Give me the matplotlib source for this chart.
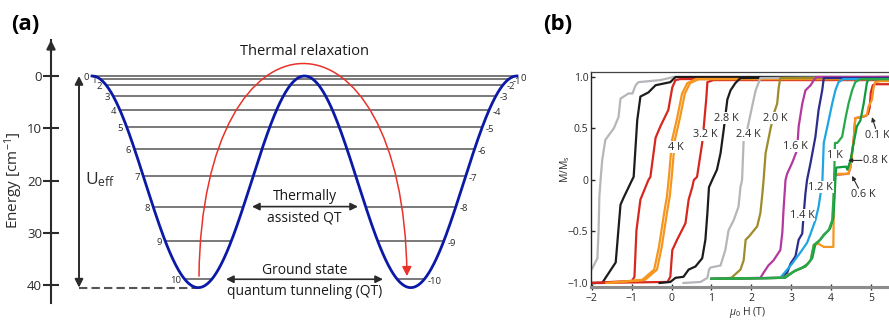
import numpy as np
import matplotlib
matplotlib.use("Agg")
import matplotlib.pyplot as plt
from matplotlib.path import Path
from matplotlib.patches import FancyArrowPatch

plt.rcParams['font.family'] = ['Open Sans', 'DejaVu Sans']
plt.rcParams['mathtext.fontset'] = 'custom'
plt.rcParams['mathtext.rm'] = 'Open Sans'
plt.rcParams['mathtext.it'] = 'Open Sans:italic'
plt.rcParams['mathtext.bf'] = 'Open Sans:bold'

# ---------------- panel (a) data ----------------
well_depth = 40.5                      # cm-1, bottom of each well
level_m = list(range(11))              # |m| = 0 .. 10
level_E = [0, 0.6, 1.7, 3.8, 6.5, 9.8, 14.0, 19.2, 25.0, 31.6, 38.9]
energy_ticks = [0, 10, 20, 30, 40]

# ---------------- panel (b) data ----------------
gray_d_x = [-2.03, -1.99, -1.86, -1.83, -1.81, -1.78, -1.74, -1.66, -1.45, -1.33, -1.28,
            -1.08, -0.98, -0.90, -0.83, -0.28, 0.05, 5.5]
gray_d_y = [-0.88, -0.86, -0.76, -0.49, -0.16, 0.0, 0.19, 0.39, 0.50, 0.61, 0.79,
            0.84, 0.84, 0.92, 0.95, 0.97, 1.0, 1.0]
black_d_x = [-2.03, -1.74, -1.40, -1.28, -1.20, -0.99, -0.95, -0.86, -0.78, -0.58, -0.40,
             -0.03, 0.10, 5.5]
black_d_y = [-1.0, -1.0, -0.80, -0.24, -0.17, 0.0, 0.03, 0.58, 0.81, 0.85, 0.92,
             0.95, 1.0, 1.0]
red_d_x = [-2.03, -0.99, -0.93, -0.88, -0.78, -0.58, -0.53, -0.40, -0.28, -0.08, 0.02,
           0.10, 0.23, 5.5]
red_d_y = [-1.0, -0.98, -0.94, -0.49, -0.19, 0.0, 0.03, 0.41, 0.52, 0.68, 0.90,
           0.97, 0.98, 0.98]
orange4_x = [-1.60, -0.70, -0.40, -0.28, -0.15, -0.08, -0.03, 0.05, 0.18, 0.30, 0.43, 0.65, 5.5]
orange4_y = [-1.0, -0.97, -0.87, -0.65, -0.32, -0.16, 0.03, 0.39, 0.61, 0.84, 0.94, 0.98, 0.98]
red32_x = [-2.03, -0.10, -0.03, 0.02, 0.14, 0.35, 0.43, 0.52, 0.56, 0.64, 0.77, 0.81,
           0.87, 0.90, 1.05, 5.5]
red32_y = [-1.0, -0.99, -0.94, -0.68, -0.58, -0.42, -0.19, -0.07, 0.0, 0.03, 0.36, 0.52,
           0.78, 0.95, 0.97, 0.97]
black28_x = [-0.30, -0.03, 0.10, 0.30, 0.43, 0.60, 0.77, 0.85, 0.90, 0.94, 1.02, 1.14,
             1.23, 1.31, 1.40, 1.48, 1.60, 1.73, 5.5]
black28_y = [-1.0, -0.99, -0.95, -0.94, -0.87, -0.84, -0.76, -0.58, -0.32, -0.07, 0.0, 0.10,
             0.26, 0.49, 0.78, 0.87, 0.94, 0.99, 1.0]
gray24_x = [0.30, 0.73, 0.90, 0.94, 0.98, 1.23, 1.35, 1.43, 1.56, 1.68, 1.73, 1.77, 1.81,
            1.90, 2.02, 2.11, 2.18, 2.23, 5.5]
gray24_y = [-1.0, -0.99, -0.95, -0.87, -0.85, -0.83, -0.68, -0.49, -0.39, -0.26, -0.07, 0.0, 0.39,
            0.49, 0.71, 0.87, 0.94, 0.99, 1.0]
olive20_x = [1.00, 1.50, 1.73, 1.81, 1.86, 1.94, 2.15, 2.23, 2.28, 2.31, 2.36, 2.48, 2.57,
             2.65, 2.69, 2.73, 5.5]
olive20_y = [-0.96, -0.95, -0.87, -0.78, -0.58, -0.55, -0.45, -0.32, -0.13, 0.0, 0.26, 0.49, 0.65,
             0.74, 0.90, 0.99, 0.99]
mag16_x = [1.00, 2.23, 2.31, 2.43, 2.56, 2.73, 2.78, 2.81, 2.86, 2.90, 3.03, 3.15, 3.19,
           3.28, 3.36, 3.49, 3.57, 3.65, 5.5]
mag16_y = [-0.96, -0.95, -0.90, -0.83, -0.78, -0.68, -0.51, -0.29, 0.0, 0.06, 0.17, 0.29, 0.52,
           0.74, 0.87, 0.92, 0.97, 1.0, 1.0]
navy14_x = [1.00, 2.73, 2.90, 2.99, 3.11, 3.19, 3.28, 3.31, 3.36, 3.40, 3.49, 3.61, 3.69,
            3.78, 3.82, 5.5]
navy14_y = [-0.96, -0.95, -0.90, -0.81, -0.74, -0.58, -0.52, -0.36, -0.13, 0.0, 0.17, 0.42, 0.68,
            0.87, 0.99, 0.99]
blue12_x = [1.00, 2.73, 2.90, 3.03, 3.24, 3.40, 3.49, 3.61, 3.69, 3.74, 3.78, 3.82, 3.91,
            4.03, 4.11, 4.19, 4.31, 5.5]
blue12_y = [-0.96, -0.95, -0.87, -0.81, -0.70, -0.61, -0.52, -0.39, -0.26, -0.13, -0.06, 0.36, 0.52,
            0.74, 0.87, 0.95, 0.98, 0.98]
green10_x = [1.00, 2.81, 3.06, 3.24, 3.36, 3.49, 3.57, 3.69, 3.82, 3.94, 4.03, 4.06, 4.08,
             4.10, 4.16, 4.28, 4.37, 4.44, 4.53, 4.61, 4.74, 5.5]
green10_y = [-0.96, -0.95, -0.89, -0.86, -0.84, -0.78, -0.63, -0.60, -0.53, -0.49, -0.39, -0.19, 0.0,
             0.36, 0.36, 0.42, 0.61, 0.74, 0.87, 0.95, 0.98, 0.98]
green08_x = [1.00, 2.85, 3.10, 3.28, 3.40, 3.53, 3.61, 3.73, 3.86, 3.98, 4.06, 4.09, 4.11,
             4.13, 4.38, 4.41, 4.49, 4.57, 4.65, 4.74, 4.82, 4.90, 4.94, 5.5]
green08_y = [-0.96, -0.95, -0.88, -0.85, -0.82, -0.76, -0.62, -0.58, -0.52, -0.47, -0.37, -0.17, 0.0,
             0.12, 0.13, 0.10, 0.19, 0.36, 0.52, 0.58, 0.74, 0.94, 0.98, 0.98]
orange06_x = [1.00, 2.81, 3.06, 3.24, 3.36, 3.49, 3.57, 3.69, 3.82, 4.06, 4.08, 4.19, 4.44,
              4.49, 4.57, 4.61, 4.74, 4.90, 4.94, 5.03, 5.07, 5.11, 5.24, 5.5]
orange06_y = [-0.96, -0.95, -0.89, -0.86, -0.84, -0.78, -0.63, -0.62, -0.65, -0.65, 0.05, 0.06, 0.06,
              0.13, 0.39, 0.60, 0.61, 0.63, 0.71, 0.78, 0.90, 0.95, 0.96, 0.96]
red01_x = [4.08, 4.44, 4.49, 4.57, 4.61, 4.74, 4.86, 4.93, 4.97, 5.00, 5.05, 5.10, 5.5]
red01_y = [0.05, 0.06, 0.13, 0.39, 0.60, 0.61, 0.62, 0.64, 0.70, 0.85, 0.92, 0.93, 0.93]

curves = [
    ("#b5b6ba", gray_d_x, gray_d_y), ("#1c1c1c", black_d_x, black_d_y),
    ("#d6281f", red_d_x, red_d_y), ("#d6281f", red32_x, red32_y),
    ("#1c1c1c", black28_x, black28_y), ("#b5b6ba", gray24_x, gray24_y),
    ("#9e8b2a", olive20_x, olive20_y), ("#b4399f", mag16_x, mag16_y),
    ("#2c2c8c", navy14_x, navy14_y), ("#1fa6e2", blue12_x, blue12_y),
    ("#d6281f", red01_x, red01_y), ("#f5961e", orange06_x, orange06_y),
    ("#0f9a3c", green08_x, green08_y), ("#2aa849", green10_x, green10_y),
]
temp_labels = ["4 K", "3.2 K", "2.8 K", "2.4 K", "2.0 K", "1.6 K", "1.4 K", "1.2 K", "1 K"]
temp_label_x = [0.10, 0.85, 1.37, 1.94, 2.61, 3.11, 3.28, 3.74, 4.09]
temp_label_y = [0.32, 0.44, 0.60, 0.44, 0.60, 0.33, -0.34, -0.07, 0.24]
arrow_labels = ["0.8 K", "0.1 K", "0.6 K"]
arrow_text_xy = [(5.12, 0.19), (5.16, 0.43), (4.82, -0.14)]
arrow_tail_xy = [(4.78, 0.19), (5.12, 0.50), (4.69, -0.08)]
arrow_tip_xy = [(4.43, 0.19), (5.03, 0.61), (4.53, 0.04)]

# pixel layout helpers
W, H = 889, 320
def frac(x0, y0, x1, y1):
    return [x0 / W, 1 - y1 / H, (x1 - x0) / W, (y1 - y0) / H]

fig = plt.figure(figsize=(W / 100, H / 100), dpi=100)
dark = '#2b2b2b'

# ================= panel (a) =================
qpx, q0 = 212.5, 304.5      # px per unit reaction coordinate, centre
epx, e0 = 5.225, 76.0       # px per cm-1, zero energy row
axa = fig.add_axes(frac(51, 40, 540, 303))
axa.set_xlim((51 - q0) / qpx, (540 - q0) / qpx)
axa.set_ylim((303 - e0) / epx, (40 - e0) / epx)
for s in ['top', 'right', 'bottom']:
    axa.spines[s].set_visible(False)
axa.spines['left'].set_color(dark)
axa.spines['left'].set_linewidth(1.5)
axa.set_xticks([])
axa.set_yticks(energy_ticks)
axa.tick_params(axis='y', direction='inout', length=11, width=1.5, color=dark,
                labelsize=9.5, labelcolor=dark, pad=1)
axa.set_ylabel('Energy [cm$^{-1}$]', fontsize=11, color=dark)
axa.yaxis.set_label_coords((25 - 51) / 489, 0.468)
axa.annotate('', xy=(0, 1.0), xytext=(0, 0.95), xycoords='axes fraction',
             arrowprops=dict(arrowstyle='-|>', color=dark, lw=1.5, mutation_scale=13,
                             shrinkA=0, shrinkB=0))

# level lines
def branches(E):
    a = np.arccos(1 - 2 * E / well_depth) / (2 * np.pi)
    return -1 + a, -a   # outer, inner (left well)

for m, E in zip(level_m, level_E):
    outer, inner = branches(E)
    if m <= 7:
        axa.plot([outer, -outer], [E, E], color='#555555', lw=1.1, zorder=2)
    else:
        axa.plot([outer, inner], [E, E], color='#555555', lw=1.1, zorder=2)
        axa.plot([-inner, -outer], [E, E], color='#555555', lw=1.1, zorder=2)
    axa.annotate(str(m), (outer, E), xytext=(-2.5, -1), textcoords='offset points',
                 ha='right', va='center', fontsize=6.8, color=dark)
    axa.annotate(str(-m) if m else '0', (-outer, E), xytext=(2.5, -1.5), textcoords='offset points',
                 ha='left', va='center', fontsize=6.8, color=dark)

q = np.linspace(-1, 1, 600)
axa.plot(q, well_depth * (1 - np.cos(2 * np.pi * q)) / 2, color='#0b1aa6', lw=2.0, zorder=4)

# U_eff
xu = (79 - q0) / qpx
axa.annotate('', xy=(xu, 0), xytext=(xu, well_depth),
             arrowprops=dict(arrowstyle='<|-|>', color=dark, lw=1.4, mutation_scale=12,
                             shrinkA=0, shrinkB=0))
axa.plot([xu, -0.5], [well_depth, well_depth], color='#555555', lw=1.5, ls=(0, (4, 2)))
axa.text(xu + 0.03, 19.9, 'U$_{\\rm eff}$', fontsize=12.5, color=dark, va='center', ha='left')

# thermal relaxation arc
arc = Path([(-0.4965, 38.3), (-0.482, -15.9), (0.468, -15.9), (0.482, 38.3)],
           [Path.MOVETO, Path.CURVE4, Path.CURVE4, Path.CURVE4])
axa.add_patch(FancyArrowPatch(path=arc, arrowstyle='-|>', color='#e8322a', lw=1.1,
                              mutation_scale=14, shrinkA=0, shrinkB=0, zorder=5))
axa.text(0, -4.65, 'Thermal relaxation', fontsize=10.5, ha='center', va='center', color='#1a1a1a')

# tunnelling arrows
for (xa, xb, E) in [((252 - q0) / qpx, (358 - q0) / qpx, level_E[8]),
                    ((226 - q0) / qpx, (383 - q0) / qpx, level_E[10])]:
    axa.annotate('', xy=(xa, E), xytext=(xb, E),
                 arrowprops=dict(arrowstyle='<|-|>', color=dark, lw=1.2, mutation_scale=11,
                                 shrinkA=0, shrinkB=0))
axa.text(0, (196 - e0) / epx, 'Thermally', fontsize=10, ha='center', va='center', color='#1a1a1a')
axa.text(0, (217.5 - e0) / epx, 'assisted QT', fontsize=10, ha='center', va='center', color='#1a1a1a')
axa.text(0, (270.5 - e0) / epx, 'Ground state', fontsize=10, ha='center', va='center', color='#1a1a1a')
axa.text(0, (291.5 - e0) / epx, 'quantum tunneling (QT)', fontsize=10, ha='center', va='center',
         color='#1a1a1a')

fig.text(25 / W, 1 - 24 / H, '(a)', fontsize=16, fontweight='bold', ha='center', va='center')
fig.text(558 / W, 1 - 25 / H, '(b)', fontsize=16, fontweight='bold', ha='center', va='center')

# ================= panel (b) =================
axb = fig.add_axes(frac(591, 72, 889, 287))
lw_b = 1.6
for color, xs, ys in curves[:4]:
    axb.plot(xs, ys, color=color, lw=lw_b)
for dx in (-0.035, 0.035):
    axb.plot(np.array(orange4_x) + dx, orange4_y, color='#f5961e', lw=lw_b)
for color, xs, ys in curves[4:]:
    axb.plot(xs, ys, color=color, lw=lw_b)

axb.set_xlim(-2.02, -2.02 + 298 / 39.86)
axb.set_ylim(-1.039, 1.0485)
axb.set_xticks(range(-2, 6))
axb.set_yticks([-1, -0.5, 0, 0.5, 1])
axb.set_yticklabels(['\u22121.0', '\u22120.5', '0', '0.5', '1.0'])
axb.tick_params(axis='x', direction='inout', length=4, width=1, color=dark,
                labelsize=7.5, labelcolor=dark, pad=2)
axb.tick_params(axis='y', direction='in', length=3, width=1, color=dark,
                labelsize=7.5, labelcolor=dark, pad=2)
axb.spines['right'].set_visible(False)
axb.spines['bottom'].set_color('#8c8c8c')
axb.spines['bottom'].set_linewidth(2.2)
axb.spines['top'].set_color('#444444')
axb.spines['top'].set_linewidth(0.9)
axb.spines['left'].set_color('#222222')
axb.spines['left'].set_linewidth(1.0)
axb.set_ylabel('M/M$_{\\rm s}$', fontsize=7.5, color=dark)
axb.yaxis.set_label_coords((572 - 591) / 298, 0.55)
axb.set_xlabel('$\\mu_0$ H (T)', fontsize=7.5, color=dark)
axb.xaxis.set_label_coords((748 - 591) / 298, (287 - 305) / 215)

box = dict(fc='white', ec='none', pad=0.4)
for t, x, y in zip(temp_labels, temp_label_x, temp_label_y):
    axb.text(x, y, t, fontsize=7.8, ha='center', va='center', color=dark, bbox=box, zorder=10)
for t, txy, (ax_, ay_), (hx, hy) in zip(arrow_labels, arrow_text_xy, arrow_tail_xy, arrow_tip_xy):
    axb.text(txy[0], txy[1], t, fontsize=7.8, ha='center', va='center', color=dark, zorder=10)
    axb.annotate('', xy=(hx, hy), xytext=(ax_, ay_), zorder=10,
                 arrowprops=dict(arrowstyle='-|>', color=dark, lw=0.8, mutation_scale=6,
                                 shrinkA=0, shrinkB=0))

fig.savefig('out.png', dpi=100)
